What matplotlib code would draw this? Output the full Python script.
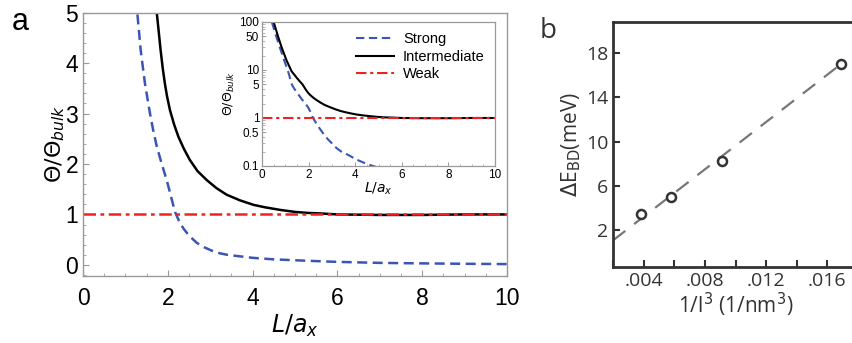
import numpy as np
import matplotlib
matplotlib.use('Agg')
import matplotlib.pyplot as plt
from matplotlib.ticker import MultipleLocator, FixedLocator, FixedFormatter

# panel a: curves
strong_x = [0.42, 0.6, 0.77, 0.95, 1.13, 1.28, 1.36, 1.46, 1.58, 1.66, 1.74, 1.83, 1.93, 2.0,
            2.08, 2.17, 2.27, 2.37, 2.5, 2.68, 2.83, 2.99, 3.1, 3.23, 3.4, 3.6, 3.8, 4.0, 4.5,
            5.06, 5.5, 6.0, 7.0, 8.0, 9.0, 10.0]
strong_y = [100, 52, 29, 16, 9.0, 5.0, 4.26, 3.6, 3.0, 2.65, 2.35, 2.08, 1.8, 1.6,
            1.34, 1.05, 0.86, 0.72, 0.58, 0.44, 0.36, 0.3, 0.26, 0.23, 0.2, 0.18, 0.16, 0.14, 0.11,
            0.09, 0.075, 0.06, 0.04, 0.03, 0.022, 0.016]

inter_x = [0.5, 0.7, 0.85, 1.05, 1.27, 1.5, 1.62, 1.74, 1.83, 1.88, 1.93, 1.98, 2.05, 2.15,
           2.25, 2.38, 2.52, 2.7, 2.92, 3.15, 3.39, 3.7, 4.02, 4.3, 4.65, 5.0, 5.3, 5.6,
           6.0, 7.0, 8.0, 9.0, 10.0]
inter_y = [100, 48, 29, 16, 9.4, 6.8, 5.8, 5.0, 4.26, 3.9, 3.6, 3.35, 3.07, 2.78,
           2.54, 2.3, 2.08, 1.86, 1.68, 1.52, 1.39, 1.28, 1.19, 1.14, 1.09, 1.05, 1.03, 1.02,
           1.0, 0.99, 0.99, 1.0, 1.0]

weak_x = [0, 10]
weak_y = [1, 1]

# panel b
pts_x = [0.00385, 0.0058, 0.0091, 0.0169]
pts_y = [3.5, 5.0, 8.3, 17.0]
fit_x = [0.002, 0.0167]
fit_y = [1.1, 16.8]
b_xticks = [0.004, 0.008, 0.012, 0.016]
b_xticklabels = ['.004', '.008', '.012', '.016']
b_yticks = [2, 6, 10, 14, 18]

plt.rcParams['font.family'] = ['Liberation Sans', 'DejaVu Sans']
plt.rcParams['mathtext.fontset'] = 'dejavusans'

fig = plt.figure(figsize=(8.52, 3.43), dpi=100)

blue = '#3a55b4'
red = '#ee2222'
spine_gray = '#999999'

# ---- main panel a
ax = fig.add_axes([83/852, 1-276/343, 424/852, 263.4/343])
ax.plot(strong_x, strong_y, '--', color=blue, lw=1.8, dashes=(4, 2.2))
ax.plot(inter_x, inter_y, '-', color='black', lw=1.8)
ax.plot(weak_x, weak_y, '-.', color=red, lw=1.8, dashes=(5, 1.8, 1.5, 1.8))
ax.set_xlim(0, 10)
ax.set_ylim(-0.22, 5)
ax.xaxis.set_major_locator(MultipleLocator(2))
ax.xaxis.set_minor_locator(MultipleLocator(0.5))
ax.yaxis.set_major_locator(MultipleLocator(1))
ax.yaxis.set_minor_locator(MultipleLocator(0.2))
ax.tick_params(which='both', direction='in', color=spine_gray, labelsize=16.5, top=False, right=False)
ax.tick_params(which='major', length=4, width=0.8)
ax.tick_params(which='minor', length=2.5, width=0.6)
ax.tick_params(axis='x', pad=8)
for s in ax.spines.values():
    s.set_color(spine_gray)
    s.set_linewidth(1.0)
ax.set_xlabel(r'$L/a_x$', fontsize=17, labelpad=2)
ax.set_ylabel(r'$\Theta/\Theta_{bulk}$', fontsize=16, labelpad=-1)
fig.text(12/852, 1-30/343, 'a', fontsize=22)

# ---- inset
ins = fig.add_axes([262/852, 1-166/343, 233/852, 144/343])
ins.plot(strong_x, strong_y, '--', color=blue, lw=1.5, dashes=(4, 2.2), label='Strong')
ins.plot(inter_x, inter_y, '-', color='black', lw=1.5, label='Intermediate')
ins.plot(weak_x, weak_y, '-.', color=red, lw=1.5, dashes=(5, 1.8, 1.5, 1.8), label='Weak')
ins.set_yscale('log')
ins.set_xlim(0, 10)
ins.set_ylim(0.1, 100)
ins.set_yticks([0.1, 0.5, 1, 5, 10, 50, 100])
ins.set_yticklabels(['0.1', '0.5', '1', '5', '10', '50', '100'])
ins.xaxis.set_major_locator(MultipleLocator(2))
ins.xaxis.set_minor_locator(MultipleLocator(0.5))
ins.tick_params(which='both', direction='in', color=spine_gray, labelsize=8.5, top=False, right=False, pad=2)
ins.tick_params(which='major', length=3, width=0.7)
ins.tick_params(which='minor', length=1.8, width=0.5)
for s in ins.spines.values():
    s.set_color(spine_gray)
    s.set_linewidth(0.9)
ins.set_xlabel(r'$L/a_x$', fontsize=10, family='Liberation Serif', labelpad=0)
ins.set_ylabel(r'$\Theta/\Theta_{bulk}$', fontsize=9, labelpad=2)
ins.legend(loc='upper right', frameon=False, fontsize=10.5, handlelength=2.6,
           handletextpad=0.6, labelspacing=0.25, borderaxespad=0.3)

# ---- panel b
dark = '#333333'
bx = fig.add_axes([613/852, 1-267/343, 245/852, 245/343])
bx.plot(fit_x, fit_y, '--', color='#777777', lw=1.6, dashes=(7, 5))
bx.plot(pts_x, pts_y, 'o', mfc='white', mec=dark, mew=1.8, ms=6.5)
bx.set_xlim(0.002, 0.018)
bx.set_ylim(-1.3, 20.8)
bx.xaxis.set_major_locator(FixedLocator(b_xticks))
bx.xaxis.set_major_formatter(FixedFormatter(b_xticklabels))
bx.xaxis.set_minor_locator(MultipleLocator(0.002))
bx.set_yticks(b_yticks)
bx.tick_params(which='both', direction='in', color=dark, labelcolor=dark, labelsize=14,
               top=False, right=False)
bx.tick_params(which='major', length=5, width=1.5)
bx.tick_params(which='minor', length=5, width=1.5)
for s in bx.spines.values():
    s.set_color(dark)
    s.set_linewidth(2)
for lab in bx.get_xticklabels() + bx.get_yticklabels():
    lab.set_family('Open Sans')
bx.set_xlabel('1/l$^3$ (1/nm$^3$)', fontsize=15, color=dark, family='Open Sans', labelpad=1)
bx.set_ylabel(r'$\Delta$E$_{\rm BD}$(meV)', fontsize=15, color=dark, family='Open Sans', labelpad=2)
fig.text(540/852, 1-38/343, 'b', fontsize=20, color=dark, family='Open Sans')

fig.savefig('out.png', dpi=100)
